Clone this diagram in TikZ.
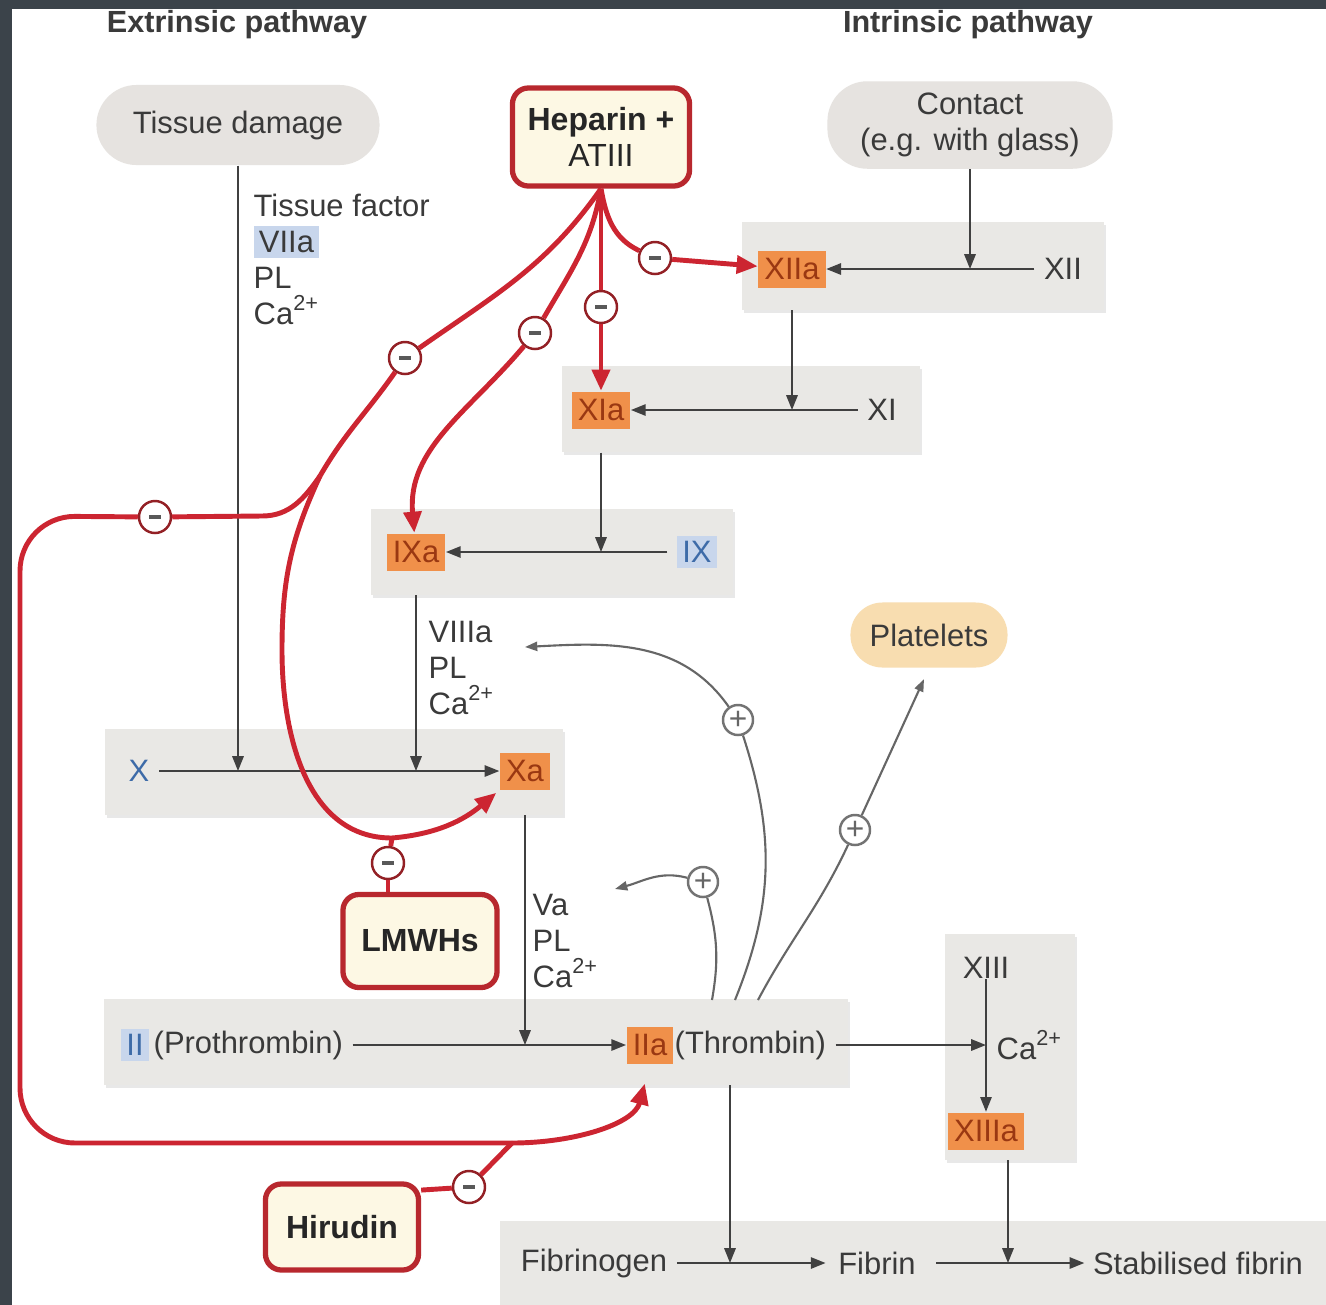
\documentclass[tikz,border=0pt]{standalone}
\usepackage{fontspec}
\setmainfont{Liberation Sans}
\usetikzlibrary{arrows.meta, shadows}

\definecolor{frame}{HTML}{3B434A}
\definecolor{pillgray}{HTML}{E6E3E0}
\definecolor{rowgray}{HTML}{E9E8E5}
\definecolor{cream}{HTML}{FDF8E4}
\definecolor{drugred}{HTML}{B8282E}
\definecolor{inhred}{HTML}{CC2531}
\definecolor{facorange}{HTML}{F0904A}
\definecolor{factext}{HTML}{9A3812}
\definecolor{facblue}{HTML}{3D6BA8}
\definecolor{lightblue}{HTML}{C8D6EC}
\definecolor{platelet}{HTML}{F8DDB0}
\definecolor{ink}{HTML}{3A3A3A}

\newcommand\basefont{\fontsize{8.8}{10.25}\selectfont}
\newcommand\drugfont{\fontsize{9.1}{10.25}\selectfont\bfseries}
\newcommand\headfont{\fontsize{8.7}{10}\selectfont\bfseries}
\setlength\fboxsep{1.5pt}

\tikzset{
  pill/.style={fill=pillgray, rounded corners=0.4cm, align=center, text=ink, font=\basefont},
  drug/.style={draw=drugred, line width=1.5pt, fill=cream, rounded corners=0.16cm, align=center, text=black!85, font=\drugfont},
  rowbox/.style={fill=rowgray, inner sep=0pt, drop shadow={shadow xshift=0.02cm, shadow yshift=-0.03cm, opacity=0.18}},
  fac/.style={fill=facorange, text=factext, inner xsep=0.06cm, inner ysep=0pt, minimum height=0.37cm, font=\basefont},
  lbl/.style={text=ink, inner sep=0pt, font=\basefont},
  blk/.style={draw=black!75, line width=0.6pt, -{Triangle[length=4.2pt,width=3.2pt]}},
  gap/.style={shorten <=0.09cm},
  act/.style={draw=black!60, line width=0.6pt},
  acttip/.style={act, -{Triangle[length=3.5pt,width=2.6pt]}},
  inh/.style={draw=inhred, line width=1.4pt},
  inharrow/.style={inh, -{Triangle[length=6pt,width=5pt]}},
  minus/.style={circle, draw=drugred!80!black, line width=0.7pt, fill=white, minimum size=0.32cm, inner sep=0pt, text=black!65},
  plus/.style={circle, draw=black!55, line width=0.7pt, fill=white, minimum size=0.3cm, inner sep=0pt, font=\small, text=black!60},
}
\newcommand\mns{\rule{0.11cm}{0.9pt}}

\begin{document}
\begin{tikzpicture}[x=0.01cm, y=-0.01cm]

\useasboundingbox (0,0) rectangle (1326,1305);
\fill[frame] (0,0) rectangle (1326,1305);
\fill[white] (12,9) rectangle (1326,1305);

%grey rows of the cascade
\node[rowbox, minimum width=3.62cm, minimum height=0.87cm] (rowxii) at (923,266) {};
\node[rowbox, minimum width=3.58cm, minimum height=0.86cm] (rowxi) at (741,409) {};
\node[rowbox, minimum width=3.61cm, minimum height=0.85cm] (rowix) at (552,552) {};
\node[rowbox, minimum width=4.58cm, minimum height=0.85cm] (rowx) at (334,772) {};
\node[rowbox, minimum width=7.43cm, minimum height=0.85cm] (rowii) at (476,1042) {};
\node[rowbox, minimum width=1.30cm, minimum height=2.25cm] (rowxiii) at (1010,1047) {};
\node[rowbox, minimum width=8.26cm, minimum height=0.83cm] (rowfib) at (913,1263) {};

%headings and starting points
\node[lbl, font=\headfont] (ext) at (237,25) {Extrinsic pathway};
\node[lbl, font=\headfont] (int) at (968,25) {Intrinsic pathway};
\node[pill, minimum width=2.83cm, minimum height=0.8cm] (tissue) at (238,125) {Tissue damage};
\node[drug, minimum width=1.77cm, minimum height=0.98cm] (heparin) at (601,137) {Heparin +\\\mdseries ATIII};
\node[pill, minimum width=2.85cm, minimum height=0.85cm] (contact) at (970,125) {Contact\\(e.g. with glass)};
\node[pill, fill=platelet, minimum width=1.57cm, minimum height=0.65cm, rounded corners=0.32cm] (platelets) at (929,635) {Platelets};
\node[drug, minimum width=1.54cm, minimum height=0.93cm] (lmwh) at (420,941) {LMWHs};
\node[drug, minimum width=1.53cm, minimum height=0.86cm] (hirudin) at (342,1227) {Hirudin};

%factors
\node[fac] (xiia) at (792,269) {XIIa};
\node[lbl] (xii) at (1063,269) {XII};
\node[fac] (xia) at (601,410) {XIa};
\node[lbl] (xi) at (882,410) {XI};
\node[fac] (ixa) at (416,552) {IXa};
\node[lbl, text=facblue, fill=lightblue, inner sep=1.5pt] (ix) at (697,552) {IX};
\node[lbl, text=facblue] (x) at (139,771) {X};
\node[fac] (xa) at (525,771) {Xa};
\node[lbl, text=facblue, fill=lightblue, inner sep=1.5pt] (ii) at (135,1045) {II};
\node[lbl, anchor=west] (pro) at (153,1045) {(Prothrombin)};
\node[fac] (iia) at (650,1045) {IIa};
\node[lbl, anchor=west] (thr) at (674,1045) {(Thrombin)};
\node[lbl] (xiii) at (986,968) {XIII};
\node[lbl, anchor=west] (ca) at (996,1045) {Ca\textsuperscript{2+}};
\node[fac] (xiiia) at (986,1131) {XIIIa};
\node[lbl] (fgen) at (594,1263) {Fibrinogen};
\node[lbl] (fib) at (877,1263) {Fibrin};
\node[lbl] (sfib) at (1198,1263) {Stabilised fibrin};

%cofactors
\node[lbl, anchor=north west, align=left] (tf) at (253,193) {Tissue factor\\\colorbox{lightblue}{VIIa}\\PL\\Ca\textsuperscript{2+}};
\node[lbl, anchor=north west, align=left] (viii) at (428,620) {VIIIa\\PL\\Ca\textsuperscript{2+}};
\node[lbl, anchor=north west, align=left] (va) at (532,893) {Va\\PL\\Ca\textsuperscript{2+}};

%inhibition and activation marks
\node[minus] (ma) at (655,258) {\mns};
\node[minus] (mb) at (601,307) {\mns};
\node[minus] (mc) at (535,333) {\mns};
\node[minus] (md) at (405,358) {\mns};
\node[minus] (me) at (155,517) {\mns};
\node[minus] (ml) at (388,863) {\mns};
\node[minus] (mh) at (469,1187) {\mns};
\node[plus] (pa) at (703,882) {+};
\node[plus] (pb) at (738,720) {+};
\node[plus] (pc) at (855,830) {+};

\coordinate (split) at (320,476);
\coordinate (bendl) at (262,516);
\coordinate (loopa) at (20,516);
\coordinate (loopb) at (20,1143);
\coordinate (hjoin) at (512,1143);
\coordinate (lmbend) at (282,650);
\coordinate (lmjoin) at (392,838);
\coordinate (t1) at (712,1000);
\coordinate (t2) at (735,1000);
\coordinate (t3) at (758,1000);
\coordinate (vatip) at (615,889);
\coordinate (viiitip) at (525,647);
\coordinate (fdown) at (730,1085);
\coordinate (sdown) at (1008,1160);

%cascade
\draw[blk] (tissue.south) -- (tissue |- xa);
\draw[blk] (contact.south) -- (contact |- xiia);
\draw[blk, gap] (xii) -- (xiia);
\draw[blk] (xiia |- rowxii.south) -- (xiia |- xia);
\draw[blk, gap] (xi) -- (xia);
\draw[blk] (xia |- rowxi.south) -- (xia |- ixa);
\draw[blk, gap] (ix) -- (ixa);
\draw[blk] (ixa |- rowix.south) -- (ixa |- xa);
\draw[blk, gap] (x) -- (xa);
\draw[blk] (xa |- rowx.south) -- (xa |- iia);
\draw[blk, gap] (pro) -- (iia);
\draw[blk, gap] (thr) -- (xiii |- thr);
\draw[blk] (xiii) -- (xiiia);
\draw[blk] (fdown) -- (fdown |- fib);
\draw[blk] (sdown) -- (sdown |- sfib);
\draw[blk, gap, shorten >=0.12cm] (fgen) -- (fib);
\draw[blk, shorten <=0.2cm, shorten >=0.08cm] (fib) -- (sfib);

%thrombin feedback
\draw[act] (t1) to[out=80,in=-75] (pa);
\draw[acttip] (pa) to[out=165,in=15] (vatip);
\draw[act] (t2) to[out=68,in=-72] (pb);
\draw[acttip] (pb) to[out=125,in=3] (viiitip);
\draw[act] (t3) to[out=62,in=-115] (pc);
\draw[acttip, shorten >=0.12cm] (pc) -- (platelets.south);

%heparin
\draw[inh] (heparin.south) to[out=-80,in=155] (ma);
\draw[inharrow] (ma) -- (xiia);
\draw[inh] (heparin.south) -- (mb);
\draw[inharrow] (mb) -- (xia);
\draw[inh] (heparin.south) to[out=-100,in=60] (mc);
\draw[inharrow] (mc) to[out=-130,in=95] (ixa);
\draw[inh] (heparin.south) to[out=-125,in=35] (md);
\draw[inh] (md) to[out=-125,in=60] (split);
\draw[inh] (split) to[out=-125,in=0] (bendl) -- (me);
\draw[inh, rounded corners=0.55cm] (me) -- (loopa) -- (loopb) -- (hjoin);
\draw[inharrow, shorten >=0.2cm] (hjoin) to[out=0,in=-105] (iia.south);
\draw[inh] (split) to[out=-115,in=90] (lmbend) to[out=-90,in=180] (lmjoin);
\draw[inharrow, shorten >=0.04cm] (lmjoin) to[out=5,in=-140] (xa.south west);

%LMWHs and hirudin
\draw[inh] (ml |- lmwh.north) -- (ml);
\draw[inh] (ml) -- (lmjoin);
\draw[inh] (hirudin.25) -- (mh);
\draw[inh] (mh) -- (hjoin);

\end{tikzpicture}
\end{document}
